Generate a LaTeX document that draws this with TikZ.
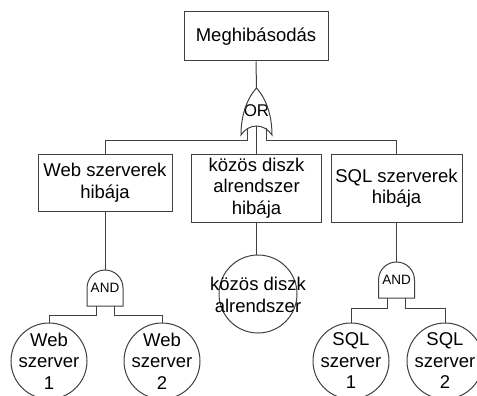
\documentclass[tikz,border=0pt]{standalone}
\usepackage{fontspec}
\setmainfont{Liberation Sans}
\definecolor{linec}{RGB}{64,64,64}
\newcommand\fdiag{\fontsize{18.5}{21.5}\selectfont}
\newcommand\fand{\fontsize{13.5}{15}\selectfont}
\newcommand\forg{\fontsize{17}{18}\selectfont}
\begin{document}
\begin{tikzpicture}[x=1pt,y=-1pt,
  ln/.style={draw=linec, line width=1pt},
  box/.style={draw=linec, line width=1pt, rectangle, align=center, inner sep=0pt, font=\fdiag},
  evt/.style={draw=linec, line width=1pt, circle, minimum size=76pt, inner sep=0pt},
  evtxt/.style={align=center, font=\fdiag, inner sep=0pt},
  gatetxt/.style={font=\fand, minimum width=36pt, minimum height=36pt, inner sep=0pt}]
\useasboundingbox (0,0) rectangle (477,396);

% top event
\node[box, minimum width=144pt, minimum height=49pt] (top) at (256,36.5) {Meghibásodás};

% OR gate
\node[font=\forg, minimum width=31pt, minimum height=47pt, inner sep=0pt] (or) at (256.5,111.5) {\raisebox{1.5pt}{OR}};
\draw[ln] (241,135) .. controls (241,112) and (249,96) .. (256.5,88)
  .. controls (264,96) and (272,112) .. (272,135)
  .. controls (264,123) and (249,123) .. (241,135) -- cycle;
\coordinate (orLa) at (247,128);
\coordinate (orRa) at (266,128);
\coordinate (orMid) at (256.5,126);

% intermediate events
\node[box, minimum width=134pt, minimum height=57pt] (lbox) at (105,182.5) {Web szerverek\\hibája};
\node[box, minimum width=130pt, minimum height=68pt] (mbox) at (256.5,188) {közös diszk\\alrendszer\\hibája};
\node[box, minimum width=131pt, minimum height=68pt] (sbox) at (396.5,188) {SQL szerverek\\hibája};

\draw[ln] (top.south) -- (or.north);
\draw[ln] (orLa) -- ++(0,12) -| (lbox.north);
\draw[ln] (orRa) -- ++(0,12) -| (sbox.north);
\draw[ln] (orMid) -- (mbox.north);

% left AND gate
\node[gatetxt] (andL) at (105,288) {AND};
\begin{scope}[shift={(105,288)}]
\draw[ln] (-18,18) -- (-18,0) .. controls (-18,-9.94) and (-9.94,-18) .. (0,-18)
  .. controls (9.94,-18) and (18,-9.94) .. (18,0) -- (18,18) -- cycle;
\end{scope}
\coordinate (andLa) at (96,306);
\coordinate (andLb) at (114,306);

% right AND gate
\node[gatetxt] (andS) at (396.5,280) {AND};
\begin{scope}[shift={(396.5,280)}]
\draw[ln] (-18,18) -- (-18,0) .. controls (-18,-9.94) and (-9.94,-18) .. (0,-18)
  .. controls (9.94,-18) and (18,-9.94) .. (18,0) -- (18,18) -- cycle;
\end{scope}
\coordinate (andSa) at (387.5,298);
\coordinate (andSb) at (405.5,298);

% basic events
\node[evt] (web1) at (49,361) {};
\node[evtxt] (web1t) at (web1) {Web\\szerver\\1};
\node[evt] (web2) at (162,361) {};
\node[evtxt] (web2t) at (web2) {Web\\szerver\\2};
\node[evt, minimum size=78pt] (disk) at (258,294) {};
\node[evtxt] (diskt) at (258,295) {közös diszk\\alrendszer};
\node[evt] (sql1) at (351,361) {};
\node[evtxt] (sql1t) at (sql1) {SQL\\szerver\\1};
\node[evt] (sql2) at (445,361) {};
\node[evtxt] (sql2t) at (sql2) {SQL\\szerver\\2};

% connectors
\draw[ln] (lbox.south) -- (andL.north);
\draw[ln] (andLa) -- ++(0,9) -| (web1.north);
\draw[ln] (andLb) -- ++(0,9) -| (web2.north);
\draw[ln] (mbox.south) -- (mbox.south |- disk.north);
\draw[ln] (sbox.south) -- (andS.north);
\draw[ln] (andSa) -- ++(0,10) -| (sql1.north);
\draw[ln] (andSb) -- ++(0,10) -| (sql2.north);
\end{tikzpicture}
\end{document}
